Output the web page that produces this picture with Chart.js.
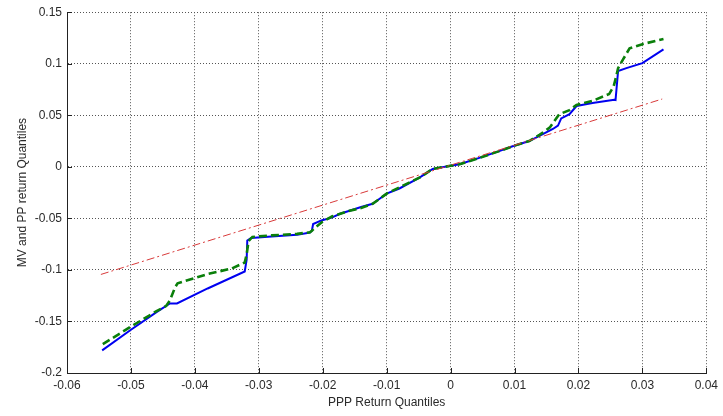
<!DOCTYPE html>
<html>
<head>
<meta charset="utf-8">
<script src="https://cdn.jsdelivr.net/npm/chart.js@4/dist/chart.umd.min.js"></script>
<style>
html,body{margin:0;padding:0;background:#fff;}
#wrap{width:723px;height:416px;position:relative;}
</style>
</head>
<body>
<div id="wrap"><canvas id="c" width="723" height="416"></canvas></div>
<script>
// ---- data ----
const blueX = [-0.0545,-0.0500,-0.0460,-0.0439,-0.0428,-0.0380,-0.0322,-0.0319,-0.0318,-0.0312,-0.0280,-0.0240,-0.0220,-0.0217,-0.0215,-0.0202,-0.0185,-0.0173,-0.0158,-0.0140,-0.0122,-0.0111,-0.0100,-0.0080,-0.0048,-0.0028,0.0000,0.0014,0.0045,0.0075,0.0097,0.0123,0.0139,0.0160,0.0168,0.0173,0.0186,0.0197,0.0222,0.0256,0.0258,0.0262,0.0275,0.0300,0.0333];
const blueY = [-0.178,-0.158,-0.141,-0.1325,-0.1325,-0.118,-0.1015,-0.0900,-0.0716,-0.0690,-0.0677,-0.0660,-0.0638,-0.0620,-0.0555,-0.0520,-0.0490,-0.0455,-0.0426,-0.0390,-0.0358,-0.0310,-0.0260,-0.0210,-0.0103,-0.0020,0.0010,0.0025,0.0087,0.0150,0.0200,0.0250,0.0300,0.0367,0.0400,0.0470,0.0510,0.0590,0.0620,0.0650,0.0648,0.0930,0.0957,0.1006,0.1140];
const greenX = [-0.0544,-0.0500,-0.0460,-0.0445,-0.0439,-0.0431,-0.0427,-0.0380,-0.0342,-0.0322,-0.0319,-0.0316,-0.0310,-0.0280,-0.0240,-0.0220,-0.0217,-0.0210,-0.0200,-0.0185,-0.0158,-0.0140,-0.0122,-0.0111,-0.0100,-0.0080,-0.0048,-0.0028,0.0000,0.0014,0.0045,0.0075,0.0097,0.0123,0.0139,0.0155,0.0170,0.0186,0.0197,0.0222,0.0248,0.0255,0.0258,0.0262,0.0270,0.0280,0.0300,0.0333];
const greenY = [-0.172,-0.155,-0.140,-0.135,-0.1296,-0.117,-0.113,-0.104,-0.0986,-0.0928,-0.0850,-0.0720,-0.0680,-0.0665,-0.0650,-0.0635,-0.0620,-0.0580,-0.0530,-0.0480,-0.0426,-0.0400,-0.0358,-0.0310,-0.0260,-0.0200,-0.0103,-0.0020,0.0010,0.0025,0.0087,0.0150,0.0200,0.0250,0.0310,0.0380,0.0510,0.0550,0.0600,0.0640,0.0706,0.0780,0.0850,0.0957,0.1045,0.1150,0.1190,0.1240];
const redX = [-0.0547, 0.0331];
const redY = [-0.1044, 0.0658];
const xTickValues = [-0.06,-0.05,-0.04,-0.03,-0.02,-0.01,0,0.01,0.02,0.03,0.04];
const xTickLabels = ['-0.06','-0.05','-0.04','-0.03','-0.02','-0.01','0','0.01','0.02','0.03','0.04'];
const yTickValues = [-0.2,-0.15,-0.1,-0.05,0,0.05,0.1,0.15];
const yTickLabels = ['-0.2','-0.15','-0.1','-0.05','0','0.05','0.1','0.15'];
const xTitle = 'PPP Return Quantiles';
const yTitle = 'MV and PP return Quantiles';

const toPts = (xs, ys) => xs.map((x, i) => ({x: x, y: ys[i]}));
const labelFor = (vals, labels, v) => {
  for (let i = 0; i < vals.length; i++) if (Math.abs(vals[i] - v) < 1e-9) return labels[i];
  return '';
};

const FONT = {family: '"Liberation Sans", Arial, sans-serif', size: 12};
const TXT = '#2a2a2a';

const innerTicks = {
  id: 'innerTicks',
  afterDatasetsDraw(chart) {
    const {ctx, chartArea, scales} = chart;
    ctx.save();
    ctx.strokeStyle = '#222';
    ctx.lineWidth = 1;
    ctx.beginPath();
    xTickValues.forEach(v => {
      const px = Math.round(scales.x.getPixelForValue(v)) + 0.5;
      ctx.moveTo(px, chartArea.bottom);
      ctx.lineTo(px, chartArea.bottom - 5);
    });
    yTickValues.forEach(v => {
      const py = Math.round(scales.y.getPixelForValue(v)) + 0.5;
      ctx.moveTo(chartArea.left, py);
      ctx.lineTo(chartArea.left + 5, py);
    });
    ctx.stroke();
    ctx.restore();
  }
};

new Chart(document.getElementById('c'), {
  type: 'scatter',
  data: {
    datasets: [
      {label: 'PP', data: toPts(greenX, greenY), showLine: true, borderColor: '#0a7f0a', borderWidth: 2.6, borderDash: [8, 4], pointRadius: 0, tension: 0, order: 1},
      {label: 'MV', data: toPts(blueX, blueY), showLine: true, borderColor: '#0000f0', borderWidth: 2, pointRadius: 0, tension: 0, order: 2},
      {label: 'fit', data: toPts(redX, redY), showLine: true, borderColor: '#d83a3a', borderWidth: 1, borderDash: [8, 3, 2, 3], pointRadius: 0, tension: 0, order: 0}
    ]
  },
  options: {
    responsive: false,
    animation: false,
    layout: {padding: {left: 0, right: 16, top: 11, bottom: 0}},
    plugins: {legend: {display: false}, tooltip: {enabled: false}},
    scales: {
      x: {
        type: 'linear', min: -0.06, max: 0.04,
        afterBuildTicks(s) { s.ticks = xTickValues.map(v => ({value: v})); },
        afterFit(s) { s.height = 43; },
        ticks: {font: FONT, color: TXT, padding: 5, maxRotation: 0, autoSkip: false,
          callback: v => labelFor(xTickValues, xTickLabels, v)},
        grid: {color: '#555', lineWidth: 1, drawTicks: false, tickLength: 0},
        border: {display: true, color: '#222', width: 1, dash: [1, 2]},
        title: {display: true, text: xTitle, font: FONT, color: TXT, padding: {top: 0, bottom: 6}}
      },
      y: {
        type: 'linear', min: -0.2, max: 0.15,
        afterBuildTicks(s) { s.ticks = yTickValues.map(v => ({value: v})); },
        afterFit(s) { s.width = 67; },
        ticks: {font: FONT, color: TXT, padding: 5, autoSkip: false,
          callback: v => labelFor(yTickValues, yTickLabels, v)},
        grid: {color: '#555', lineWidth: 1, drawTicks: false, tickLength: 0},
        border: {display: true, color: '#222', width: 1, dash: [1, 2]},
        title: {display: true, text: yTitle, font: FONT, color: TXT, padding: {top: 15, bottom: 0}}
      }
    }
  },
  plugins: [innerTicks]
});
</script>
</body>
</html>
